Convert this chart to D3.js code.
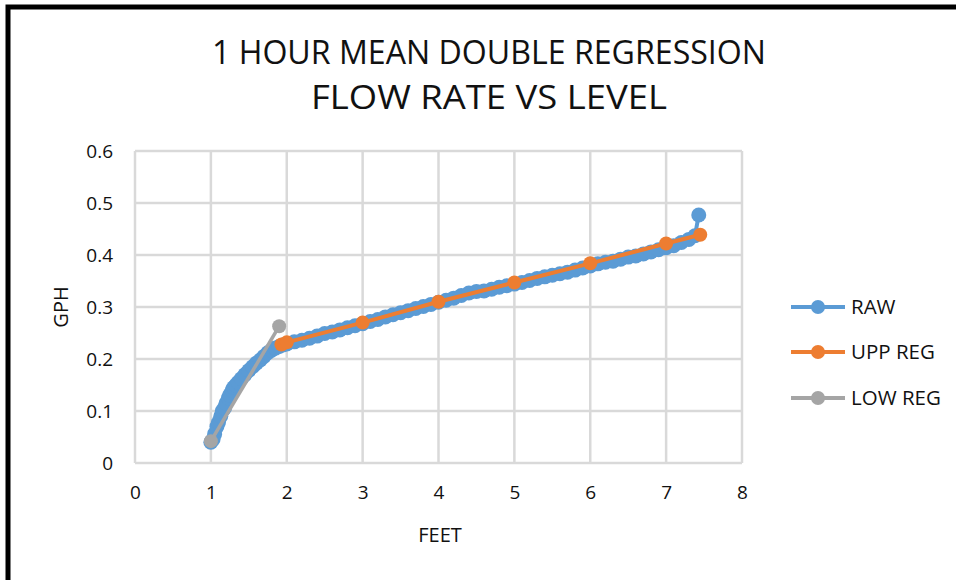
<!DOCTYPE html>
<html>
<head>
<meta charset="utf-8">
<script src="https://cdn.jsdelivr.net/npm/d3@7"></script>
<style>
  body { margin: 0; background: #fff; }
  text { font-family: "Open Sans", sans-serif; fill: #111; }
</style>
</head>
<body>
<div id="chart"></div>
<script>
// data
let rawX = [1.00, 1.03, 1.05, 1.08, 1.10, 1.13, 1.15, 1.18, 1.20, 1.23, 1.25, 1.28, 1.30, 1.33, 1.36,
            1.40, 1.45, 1.50, 1.55, 1.60, 1.65, 1.70, 1.75, 1.80, 1.85, 1.90, 1.95, 2.00,
            2.1, 2.2, 2.3, 2.4, 2.5, 2.6, 2.7, 2.8, 2.9, 3.0, 3.1, 3.2, 3.3, 3.4, 3.5, 3.6, 3.7, 3.8, 3.9,
            4.0, 4.1, 4.2, 4.3, 4.4, 4.5, 4.6, 4.7, 4.8, 4.9, 5.0, 5.1, 5.2, 5.3, 5.4, 5.5, 5.6, 5.7, 5.8, 5.9,
            6.0, 6.1, 6.2, 6.3, 6.4, 6.5, 6.6, 6.7, 6.8, 6.9, 7.0, 7.1, 7.2, 7.3, 7.38, 7.43];
let rawY = [0.040, 0.046, 0.056, 0.070, 0.078, 0.090, 0.100, 0.106, 0.115, 0.125, 0.131, 0.140, 0.145, 0.150, 0.155,
            0.162, 0.170, 0.178, 0.185, 0.192, 0.198, 0.205, 0.212, 0.217, 0.221, 0.224, 0.227, 0.229,
            0.233, 0.236, 0.240, 0.244, 0.249, 0.252, 0.256, 0.260, 0.264, 0.268, 0.272, 0.276, 0.281, 0.285, 0.289, 0.293, 0.297, 0.301, 0.305,
            0.309, 0.313, 0.317, 0.322, 0.327, 0.330, 0.331, 0.334, 0.338, 0.341, 0.344, 0.347, 0.351, 0.355, 0.358, 0.361, 0.364, 0.367, 0.371, 0.375,
            0.379, 0.383, 0.386, 0.388, 0.392, 0.396, 0.398, 0.402, 0.406, 0.410, 0.414, 0.418, 0.424, 0.430, 0.437, 0.477];

let uppX = [1.93, 2.0, 3.0, 4.0, 5.0, 6.0, 7.0, 7.45];
let uppY = [0.228, 0.232, 0.270, 0.310, 0.347, 0.384, 0.422, 0.439];

let lowX = [1.0, 1.9];
let lowY = [0.042, 0.263];

let xTicks = [0, 1, 2, 3, 4, 5, 6, 7, 8];
let yTicks = [0, 0.1, 0.2, 0.3, 0.4, 0.5, 0.6];

let seriesNames = ["RAW", "UPP REG", "LOW REG"];
let seriesColors = ["#5b9bd5", "#ed7d31", "#a5a5a5"];

let width_svg = 956, height_svg = 580;
let plot = { left: 135, right: 742, top: 151, bottom: 463 };

let svg = d3.select("#chart").append("svg")
    .attr("width", width_svg)
    .attr("height", height_svg);

// outer frame (only top and left show)
svg.append("path")
    .attr("d", `M8,${height_svg} L8,7 L${width_svg},7`)
    .attr("fill", "none")
    .attr("stroke", "#000")
    .attr("stroke-width", 5);

// title
let title = svg.append("g").attr("text-anchor", "middle");
title.append("text").attr("x", 489).attr("y", 64)
    .attr("font-size", 32).attr("textLength", 554).attr("lengthAdjust", "spacingAndGlyphs")
    .text("1 HOUR MEAN DOUBLE REGRESSION");
title.append("text").attr("x", 489).attr("y", 109)
    .attr("font-size", 32).attr("textLength", 356).attr("lengthAdjust", "spacingAndGlyphs")
    .text("FLOW RATE VS LEVEL");

let x = d3.scaleLinear().domain([0, 8]).range([plot.left, plot.right]);
let y = d3.scaleLinear().domain([0, 0.6]).range([plot.bottom, plot.top]);

// gridlines
let grid = svg.append("g").attr("stroke", "#d9d9d9").attr("stroke-width", 2.5);
grid.selectAll(".gx").data(xTicks).enter().append("line")
    .attr("x1", d => x(d)).attr("x2", d => x(d))
    .attr("y1", plot.top).attr("y2", plot.bottom);
grid.selectAll(".gy").data(yTicks).enter().append("line")
    .attr("x1", plot.left).attr("x2", plot.right)
    .attr("y1", d => y(d)).attr("y2", d => y(d));

// axes
let xAxis = svg.append("g")
    .attr("transform", `translate(0, ${plot.bottom})`)
    .call(d3.axisBottom(x).tickValues(xTicks).tickSize(0).tickPadding(23).tickFormat(d3.format("d")));
let yAxis = svg.append("g")
    .attr("transform", `translate(${plot.left}, 0)`)
    .call(d3.axisLeft(y).tickValues(yTicks).tickSize(0).tickPadding(22).tickFormat(d => d === 0 ? "0" : d3.format(".1f")(d)));
[xAxis, yAxis].forEach(a => {
    a.select(".domain").remove();
    a.selectAll("text").attr("font-size", 19).attr("font-family", "Open Sans, sans-serif").attr("fill", "#111");
});

svg.append("text").attr("x", 440).attr("y", 542).attr("text-anchor", "middle")
    .attr("font-size", 20).text("FEET");
svg.append("text").attr("transform", "translate(68, 307) rotate(-90)").attr("text-anchor", "middle")
    .attr("font-size", 20).text("GPH");

// series
let line = d3.line().x(d => x(d[0])).y(d => y(d[1]));
let series = [
    d3.zip(rawX, rawY),
    d3.zip(uppX, uppY),
    d3.zip(lowX, lowY)
];
let lineWidths = [4, 4, 3.5];
let markerR = [7.5, 7, 7];

series.forEach((pts, i) => {
    let g = svg.append("g");
    g.append("path").datum(pts)
        .attr("d", line)
        .attr("fill", "none")
        .attr("stroke", seriesColors[i])
        .attr("stroke-width", lineWidths[i]);
    g.selectAll("circle").data(pts).enter().append("circle")
        .attr("cx", d => x(d[0])).attr("cy", d => y(d[1]))
        .attr("r", markerR[i])
        .attr("fill", seriesColors[i]);
});

// legend
let legendY = [307, 352, 398];
let legend = svg.append("g");
seriesNames.forEach((name, i) => {
    let lg = legend.append("g").attr("transform", `translate(791, ${legendY[i]})`);
    lg.append("line").attr("x1", 0).attr("x2", 54)
        .attr("stroke", seriesColors[i]).attr("stroke-width", 4);
    lg.append("circle").attr("cx", 27).attr("r", 7).attr("fill", seriesColors[i]);
    lg.append("text").attr("x", 60).attr("y", 7).attr("font-size", 20.5).text(name);
});
</script>
</body>
</html>
